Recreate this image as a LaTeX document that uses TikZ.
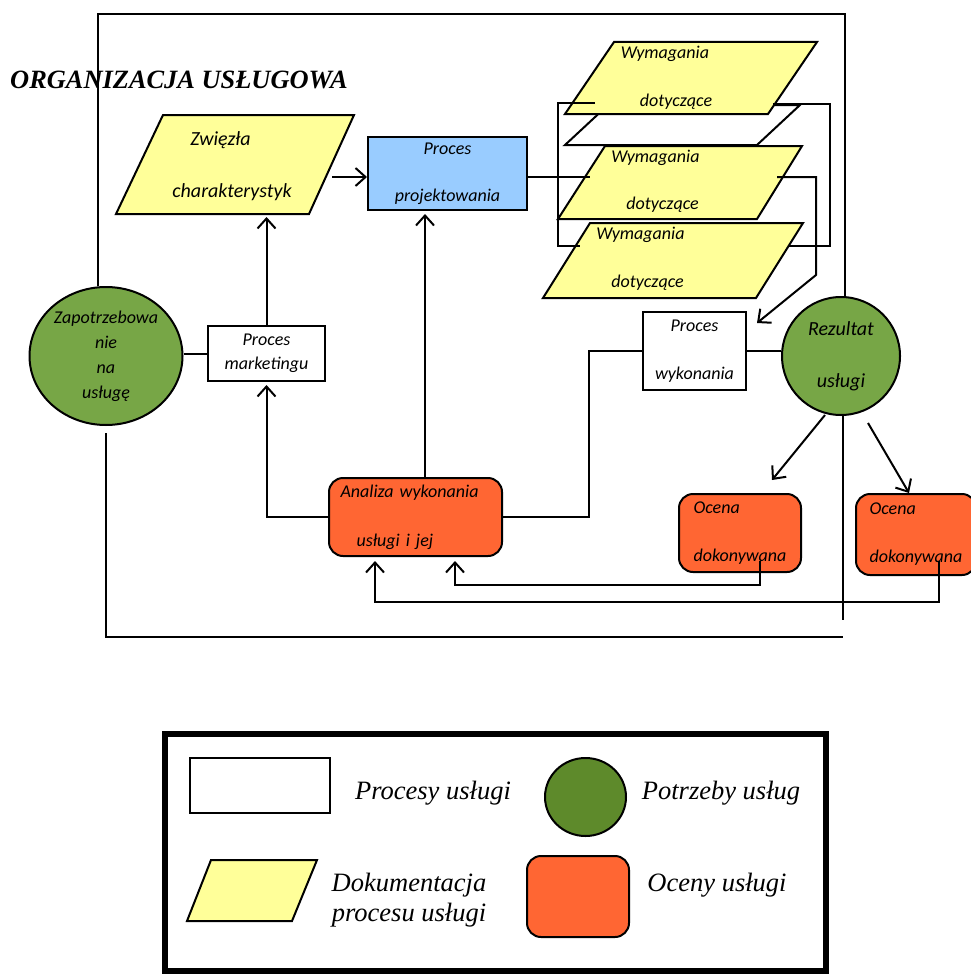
\documentclass[tikz,border=0pt]{standalone}
\usepackage{fontspec}
\setmainfont{Liberation Serif}
\newfontfamily\calfont{Carlito}
\usetikzlibrary{shapes.geometric,arrows.meta,backgrounds}

\definecolor{docyellow}{HTML}{FFFF99}
\definecolor{projblue}{HTML}{99CCFF}
\definecolor{needgreen}{HTML}{77A646}
\definecolor{keygreen}{HTML}{5E8A2B}
\definecolor{evalorange}{HTML}{FF6633}

\tikzset{
  link/.style={line width=2pt},
  arr/.style={link, -{Straight Barb[length=10pt,width=18pt]}},
  lbl/.style={font=\calfont\itshape\fontsize{18}{24}\selectfont, align=center, inner sep=0pt},
  proc/.style={lbl, draw, line width=2pt, fill=white},
  need/.style={lbl, ellipse, draw, line width=2pt, fill=needgreen},
  eval/.style={lbl, draw, line width=2pt, fill=evalorange, rounded corners=14pt},
  doc/.style={draw, line width=2pt, fill=docyellow},
  key/.style={font=\itshape\fontsize{26.5}{30}\selectfont, inner sep=0pt, align=center}
}

\begin{document}
\begin{tikzpicture}[x=1pt,y=-1pt]
    \useasboundingbox (0,0) rectangle (970,974);

    \node[font=\bfseries\itshape\fontsize{26.4}{30}\selectfont, anchor=west, inner sep=0pt] (title) at (10,80) {ORGANIZACJA USŁUGOWA};

    % documents
    \path[doc] (116,214) -- (309,214) -- (354,115) -- (163,115) -- cycle;
    \node[lbl, font=\calfont\itshape\fontsize{20}{24}\selectfont, align=left] (zwiezla) at (232,166) {\hspace*{18pt}Zwięzła\\[28pt]charakterystyk};

    \path[doc, fill=white] (565,145) -- (757,145) -- (800,105) -- (608,105) -- cycle;
    \path[doc] (565,114) -- (768,114) -- (817,42) -- (614,42) -- cycle;
    \node[lbl, align=left] (wym1) at (666.5,78) {Wymagania\\[24pt]\hspace*{19pt}dotyczące};
    \path[doc] (558,219) -- (757,219) -- (802,146) -- (605,146) -- cycle;
    \node[lbl, align=left] (wym2) at (655.5,181.5) {Wymagania\\[23pt]\hspace*{15pt}dotyczące};
    \path[doc] (543,298) -- (756,298) -- (803,223) -- (590,223) -- cycle;
    \node[lbl, align=left] (wym3) at (640.5,259) {Wymagania\\[24pt]\hspace*{15pt}dotyczące};

    % needs
    \node[need, inner sep=0pt, minimum width=153pt, minimum height=138pt, font=\calfont\itshape\fontsize{18}{25}\selectfont] (need) at (106,356) {Zapotrzebowa\\nie\\na\\usługę};
    \node[need, minimum width=118pt, minimum height=118pt, font=\calfont\itshape\fontsize{20}{24}\selectfont] (result) at (841,356) {Rezultat\\[28pt]usługi};

    % processes
    \node[proc, minimum width=117pt, minimum height=55pt] (market) at (266.5,353.5) {Proces\\marketingu};
    \node[proc, fill=projblue, minimum width=159pt, minimum height=73pt] (design) at (447.5,173.5) {Proces\\[23pt]projektowania};
    \node[proc, minimum width=103pt, minimum height=78pt] (perform) at (694.5,351) {Proces\\[24pt]wykonania};

    % evaluations
    \node[eval, minimum width=173pt, minimum height=78pt, text width=150pt, align=left] (analysis) at (415.5,517) {Analiza wykonania\\[25pt]\hspace*{16pt}usługi i jej};
    \node[eval, minimum width=122pt, minimum height=78pt, align=left] (eval1) at (740,533) {Ocena\\[24pt]dokonywana};
    \node[eval, minimum width=120pt, minimum height=81pt, align=left] (eval2) at (916,534.5) {Ocena\\[24pt]dokonywana};

    \coordinate (zwR) at (332,177);
    \coordinate (zwB) at (266.5,217);
    \coordinate (wym2L) at (590,177);
    \coordinate (wym2R) at (777,177);
    \coordinate (res1) at (825,415);
    \coordinate (res2) at (868,423);
    \coordinate (eval1T) at (772,480);

    % frame
    \begin{scope}[on background layer]
        \draw[link] (98,14 |- need.north) -- (98,14) -- (845,14) -- (845,300);
        \draw[link] (106,433) -- (106,637) -- (843,637);
        \draw[link] (843,415) -- (843,620);
    \end{scope}

    % connectors
    \draw[arr] (zwR) -- (zwR -| design.west);
    \draw[link] (need.east |- market.west) -- (market.west);
    \draw[arr] (market.north) -- (zwB);
    \draw[arr, shorten >=3pt] (analysis.west) -| (market.south);
    \draw[arr, shorten >=3pt] ([xshift=9.5pt]analysis.north) -- ([xshift=9.5pt]analysis.north |- design.south);
    \draw[link] (analysis.east) -- ++(86,0) |- (perform.west);
    \draw[link] (perform.east) -- (perform.east -| result.west);
    \draw[link] (design.east |- wym2L) -- (wym2L);
    \draw[link] (595,103) -| (558,246) -- (580,246);
    \draw[link] (773,104) -| (830,246) -- (788,246);
    \draw[arr] (wym2R) -- (816,177) -- (816,275) -- (757,323);
    \draw[arr] (res1) -- (eval1T);
    \draw[arr] (res2) -- ([xshift=-7pt]eval2.north);
    \draw[arr] ([shift={(20,-12)}]eval1.south) -- ++(0,24) -| ([shift={(39.5,4)}]analysis.south);
    \draw[arr] ([shift={(23,-15)}]eval2.south) -- ++(0,41) -| ([shift={(-40.5,4)}]analysis.south);

    % legend
    \draw[line width=6pt] (165,734) rectangle (826,971);
    \node[proc, minimum width=140pt, minimum height=55pt] (keyproc) at (260,785.5) {};
    \node[key] (keyproctxt) at (433,793) {Procesy usługi};
    \node[need, fill=keygreen, minimum width=81pt, minimum height=78pt] (keyneed) at (585.5,797) {};
    \node[key] (keyneedtxt) at (721,793) {Potrzeby usług};
    \path[doc] (187,921) -- (292,921) -- (317,860) -- (211,860) -- cycle;
    \node[key] (keydoctxt) at (409,900) {Dokumentacja\\procesu usługi};
    \node[eval, minimum width=102pt, minimum height=81pt] (keyeval) at (578,896.5) {};
    \node[key] (keyevaltxt) at (717,885) {Oceny usługi};
\end{tikzpicture}
\end{document}
